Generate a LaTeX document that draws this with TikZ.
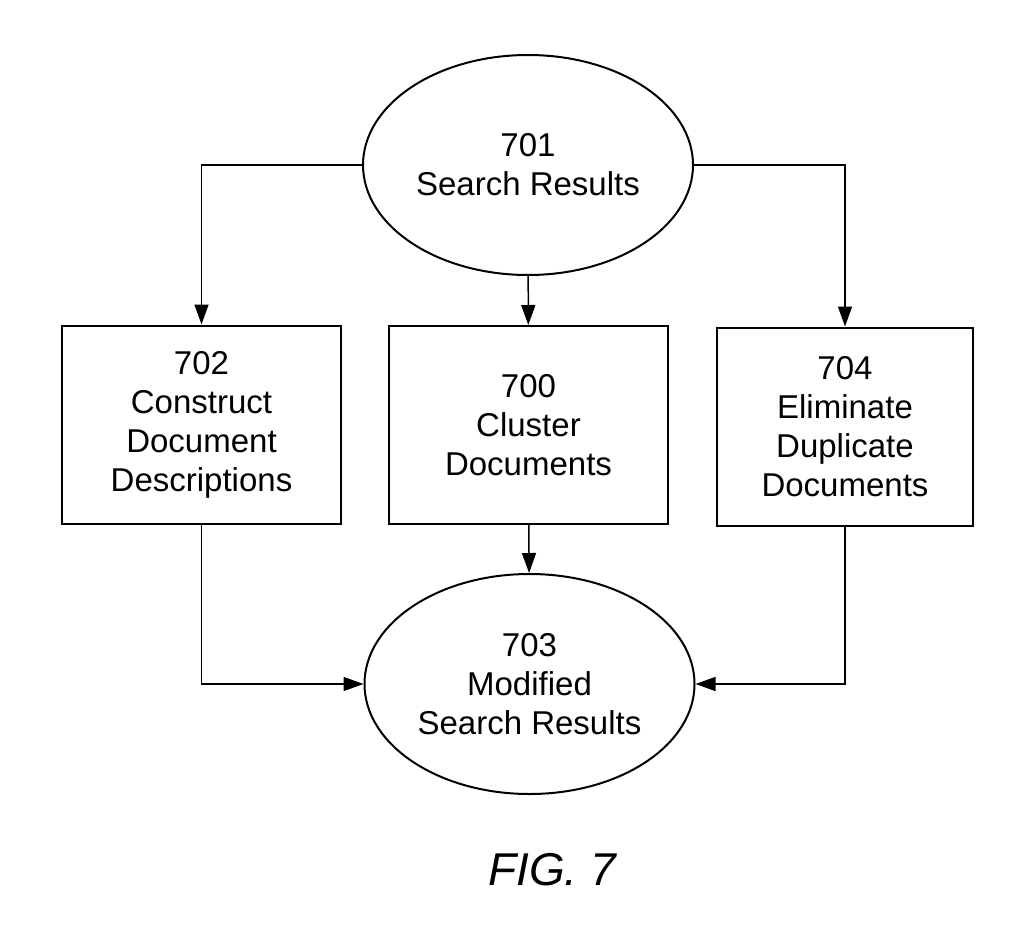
\documentclass[tikz,border=0pt]{standalone}
\usepackage{fontspec}
\setmainfont{Liberation Sans}
\usetikzlibrary{shapes.geometric, arrows.meta}

\begin{document}
\begin{tikzpicture}[x=1pt, y=-1pt, thick,
    font=\fontsize{33}{39}\selectfont,
    oval/.style = {draw, ellipse, line width=2pt, minimum width=330pt, minimum height=220pt, inner sep=0pt, align=center},
    box/.style = {draw, rectangle, line width=2pt, minimum height=198pt, inner sep=0pt, align=center},
    arr/.style = {line width=1.5pt, -{Triangle[length=20pt, width=14pt]}}]
    \useasboundingbox (0,0) rectangle (1024,931);

    % Disegna i nodi del diagramma
    \node[oval] (701) at (528, 165) {701\\Search Results};
    \node[box, minimum width=279pt] (702) at (201.5, 424.5) {702\\Construct\\Document\\Descriptions};
    \node[box, minimum width=279pt] (700) at (528.5, 425) {700\\Cluster\\Documents};
    \node[box, minimum width=256pt] (704) at (845, 426.5) {704\\Eliminate\\Duplicate\\Documents};
    \node[oval] (703) at (529.5, 684) {703\\Modified\\Search Results};

    \draw[arr] (701.west) -| (702);
    \draw[arr] (701) to (700);
    \draw[arr] (701.east) -| (704);

    \draw[arr] (702) |- (703.west);
    \draw[arr] (700) to (703);
    \draw[arr] (704) |- (703.east);

    \node[font=\fontsize{46}{50}\selectfont\itshape, anchor=base] (fig) at (552, 885) {FIG. 7};

\end{tikzpicture}
\end{document}
